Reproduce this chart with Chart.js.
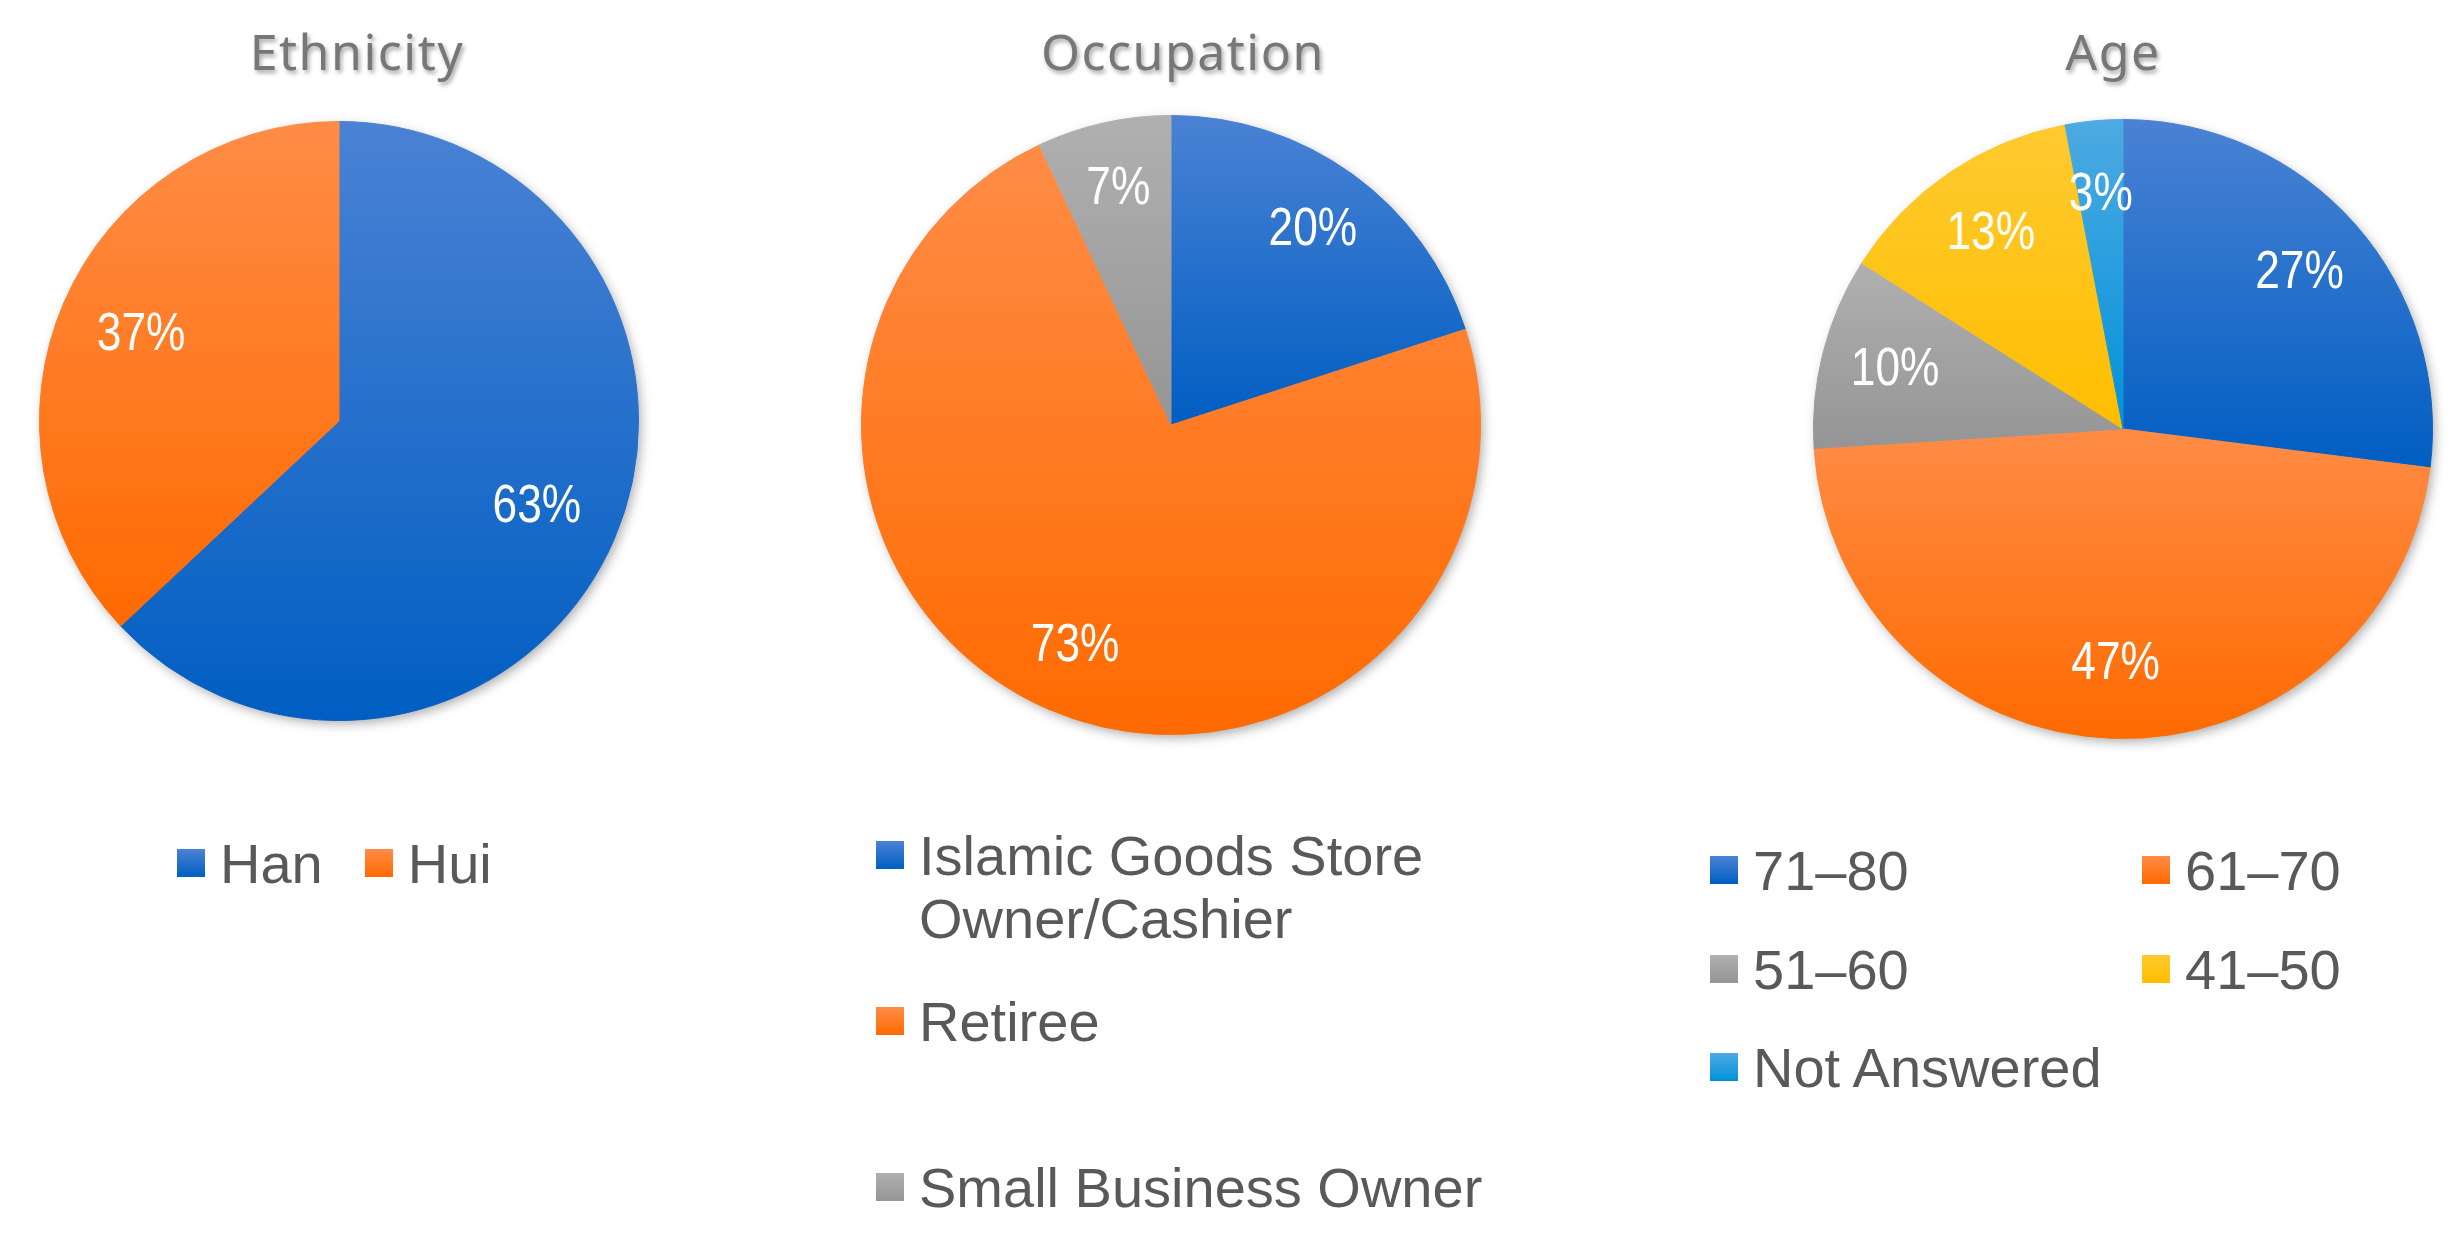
<!DOCTYPE html>
<html>
<head>
<meta charset="utf-8">
<script src="https://cdn.jsdelivr.net/npm/chart.js@4.4.1/dist/chart.umd.min.js"></script>
<style>
  body { margin: 0; width: 2456px; height: 1244px; background: #fff; position: relative; overflow: hidden; }
  canvas { position: absolute; }
  .title {
    position: absolute; top: 26px; transform: translateX(-50%);
    font-family: 'Noto Sans', sans-serif; font-size: 50px; line-height: 1;
    letter-spacing: 1.5px; color: #777; white-space: nowrap;
    text-shadow: 2px 3px 4px rgba(0, 0, 0, 0.35);
  }
  .legend { position: absolute; display: grid; align-items: start; }
  .legend .item {
    position: relative; padding-left: 43px;
    font-family: 'Liberation Sans', Arial, sans-serif; font-size: 56px; line-height: 63px;
    color: #595959;
  }
  .legend .box { position: absolute; left: 0; top: 17px; width: 28px; height: 28px; }
</style>
</head>
<body>
<div class="title" style="left:357px">Ethnicity</div>
<div class="title" style="left:1183px">Occupation</div>
<div class="title" style="left:2113px">Age</div>

<canvas id="ethnicityChart" width="644" height="644" style="left:17px;top:99px"></canvas>
<canvas id="occupationChart" width="664" height="664" style="left:839px;top:93px"></canvas>
<canvas id="ageChart" width="664" height="664" style="left:1791px;top:97px"></canvas>

<div class="legend" id="ethnicityLegend" style="left:177px;top:832px;grid-auto-flow:column;column-gap:42px"></div>
<div class="legend" id="occupationLegend" style="left:876px;top:824px;width:625px;grid-auto-rows:166px"></div>
<div class="legend" id="ageLegend" style="left:1710px;top:839px;grid-template-columns:432px 432px;grid-auto-rows:98.5px"></div>

<script>
// ข้อมูลของแต่ละกราฟ (ร้อยละ)
const ethnicityLabels = ['Han', 'Hui'];
const ethnicityValues = [63, 37];

const occupationLabels = ['Islamic Goods Store Owner/Cashier', 'Retiree', 'Small Business Owner'];
const occupationValues = [20, 73, 7];

const ageLabels = ['71–80', '61–70', '51–60', '41–50', 'Not Answered'];
const ageValues = [27, 47, 10, 13, 3];

// สีไล่เฉด [บน, ล่าง]
const blue = ['#4a82d4', '#005ec2'];
const orange = ['#ff8c46', '#ff6a00'];
const gray = ['#b0b0b0', '#959595'];
const yellow = ['#ffca30', '#ffbe00'];
const sky = ['#4eaae2', '#0092da'];

const ethnicityColors = [blue, orange];
const occupationColors = [blue, orange, gray];
const ageColors = [blue, orange, gray, yellow, sky];

// ไล่เฉดแนวตั้งตามขอบบน-ล่างของแต่ละชิ้น
function sliceFill(colors) {
    return (ctx) => {
        const pair = colors[ctx.dataIndex];
        const area = ctx.chart.chartArea;
        if (!area) return pair[1];
        const data = ctx.dataset.data;
        const total = data.reduce((a, b) => a + b, 0);
        let before = 0;
        for (let i = 0; i < ctx.dataIndex; i++) before += data[i];
        const a0 = -Math.PI / 2 + before / total * 2 * Math.PI;
        const a1 = a0 + data[ctx.dataIndex] / total * 2 * Math.PI;
        const cy = (area.top + area.bottom) / 2;
        const r = Math.min(area.width, area.height) / 2;
        const ys = [cy, cy + r * Math.sin(a0), cy + r * Math.sin(a1)];
        [-Math.PI / 2, Math.PI / 2, 3 * Math.PI / 2].forEach(k => {
            if (k >= a0 && k <= a1) ys.push(cy + r * Math.sin(k));
        });
        const g = ctx.chart.ctx.createLinearGradient(0, Math.min(...ys), 0, Math.max(...ys));
        g.addColorStop(0, pair[0]);
        g.addColorStop(1, pair[1]);
        return g;
    };
}

// เงาใต้วงกลม
const pieShadow = {
    id: 'pieShadow',
    beforeDatasetsDraw(chart) {
        const arc = chart.getDatasetMeta(0).data[0];
        if (!arc) return;
        const p = arc.getProps(['x', 'y', 'outerRadius']);
        const ctx = chart.ctx;
        ctx.save();
        ctx.shadowColor = 'rgba(0,0,0,0.35)';
        ctx.shadowBlur = 12;
        ctx.shadowOffsetX = 3;
        ctx.shadowOffsetY = 4;
        ctx.beginPath();
        ctx.arc(p.x, p.y, p.outerRadius - 1, 0, Math.PI * 2);
        ctx.fillStyle = '#fff';
        ctx.fill();
        ctx.restore();
    }
};

// ป้ายร้อยละสีขาวบนแต่ละชิ้น
const pctLabels = {
    id: 'pctLabels',
    afterDatasetsDraw(chart, args, opts) {
        const ctx = chart.ctx;
        const data = chart.data.datasets[0].data;
        ctx.save();
        ctx.fillStyle = '#fff';
        ctx.font = '54px "Liberation Sans", Arial, sans-serif';
        ctx.textAlign = 'center';
        ctx.textBaseline = 'middle';
        chart.getDatasetMeta(0).data.forEach((arc, i) => {
            const p = arc.getProps(['x', 'y', 'startAngle', 'endAngle', 'outerRadius']);
            const mid = (p.startAngle + p.endAngle) / 2;
            const d = p.outerRadius * opts.radius;
            ctx.save();
            ctx.translate(p.x + Math.cos(mid) * d, p.y + Math.sin(mid) * d);
            ctx.scale(0.82, 1);
            ctx.fillText(data[i] + '%', 0, 0);
            ctx.restore();
        });
        ctx.restore();
    }
};

function makePie(id, labels, values, colors, labelRadius) {
    const fill = sliceFill(colors);
    return new Chart(document.getElementById(id), {
        type: 'pie',
        data: {
            labels: labels,
            datasets: [{
                data: values,
                backgroundColor: fill,
                borderColor: fill,
                borderWidth: 1
            }]
        },
        options: {
            responsive: false,
            animation: false,
            layout: { padding: 22 },
            plugins: {
                legend: { display: false },
                tooltip: { enabled: false },
                pctLabels: { radius: labelRadius }
            }
        },
        plugins: [pieShadow, pctLabels]
    });
}

function makeLegend(id, labels, colors) {
    const box = document.getElementById(id);
    labels.forEach((label, i) => {
        const item = document.createElement('div');
        item.className = 'item';
        const mark = document.createElement('span');
        mark.className = 'box';
        mark.style.background = `linear-gradient(${colors[i][0]}, ${colors[i][1]})`;
        item.appendChild(mark);
        item.appendChild(document.createTextNode(label));
        box.appendChild(item);
    });
}

makePie('ethnicityChart', ethnicityLabels, ethnicityValues, ethnicityColors, 0.72);
makePie('occupationChart', occupationLabels, occupationValues, occupationColors, 0.78);
makePie('ageChart', ageLabels, ageValues, ageColors, 0.76);

makeLegend('ethnicityLegend', ethnicityLabels, ethnicityColors);
makeLegend('occupationLegend', occupationLabels, occupationColors);
makeLegend('ageLegend', ageLabels, ageColors);
</script>
</body>
</html>
